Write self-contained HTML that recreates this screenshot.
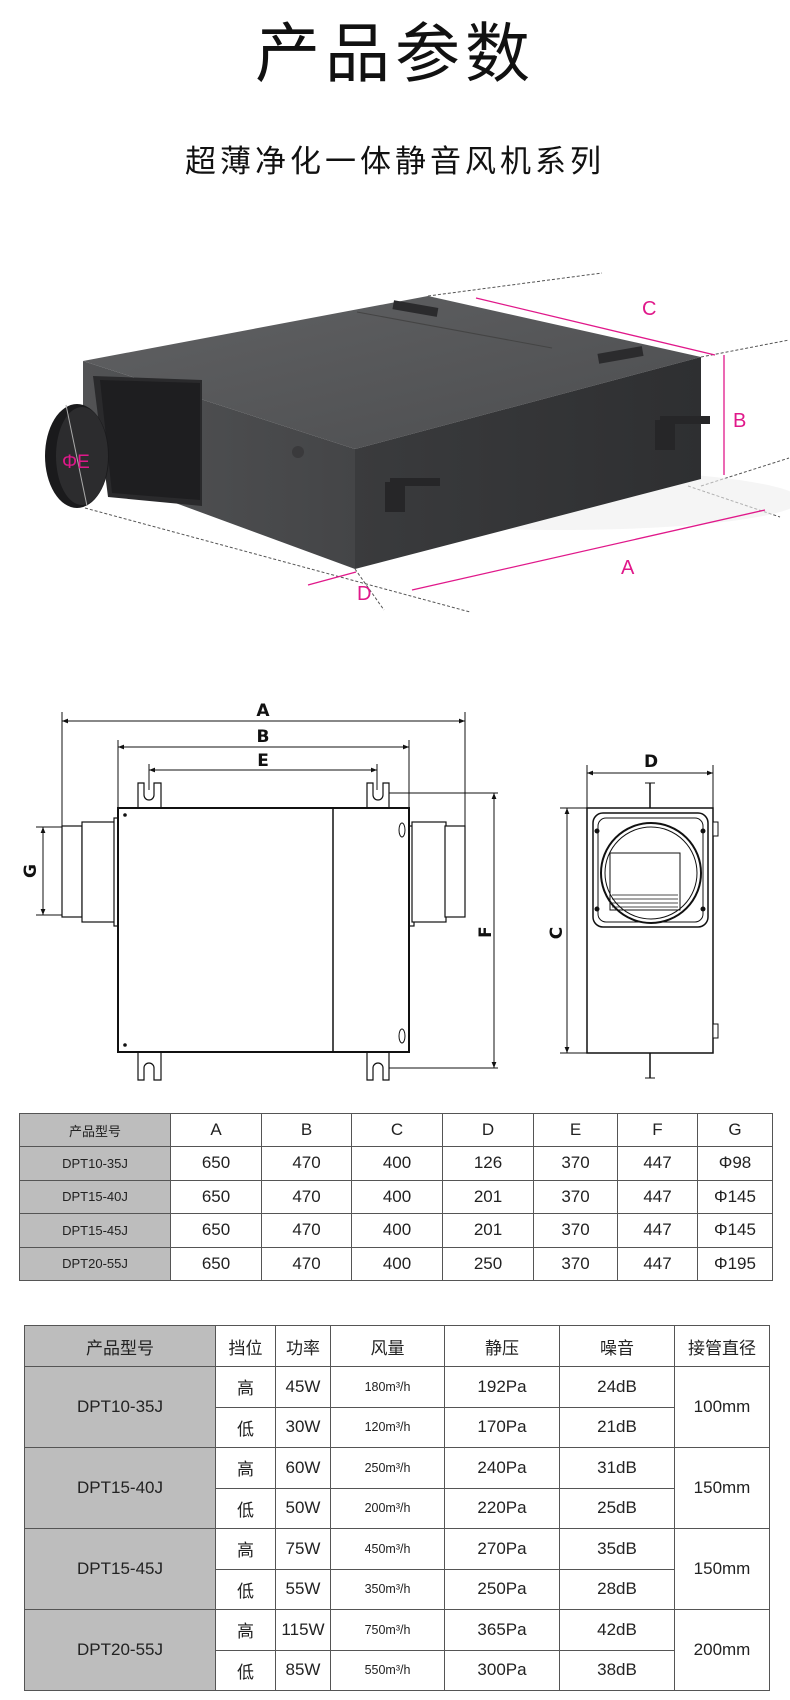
<!DOCTYPE html>
<html><head><meta charset="utf-8">
<style>
html,body{margin:0;padding:0;background:#fff;}
body{width:790px;height:1700px;position:relative;overflow:hidden;font-family:"Liberation Sans","Noto Sans CJK SC",sans-serif;color:#111;}
.t{position:absolute;left:0;width:790px;text-align:center;}
table{position:absolute;border-collapse:collapse;table-layout:fixed;}
td{border:1.5px solid #555;text-align:center;vertical-align:middle;padding:0;font-family:"Liberation Sans Narrow","Liberation Sans","Noto Sans CJK SC",sans-serif;color:#222;}
td.g{background:#bdbdbd;}
#t1 td{font-size:17px;}
#t1 td.g{font-size:13px;}
#t2 td{font-size:17px;}
#t2 td.s{font-size:12.5px;}
</style></head><body>
<div class="t" style="top:14px;font-size:65px;letter-spacing:5px;line-height:80px;">产品参数</div>
<div class="t" style="top:142px;font-size:31px;letter-spacing:4px;line-height:40px;">超薄净化一体静音风机系列</div>

<svg width="790" height="1700" style="position:absolute;left:0;top:0" xmlns="http://www.w3.org/2000/svg">
<defs>
<linearGradient id="gt" x1="0" y1="0" x2="1" y2="1"><stop offset="0" stop-color="#606163"/><stop offset="1" stop-color="#4c4d4f"/></linearGradient>
<linearGradient id="gf" x1="0" y1="0" x2="1" y2="0"><stop offset="0" stop-color="#3a3b3d"/><stop offset="1" stop-color="#2e2f31"/></linearGradient>
<linearGradient id="gl" x1="0" y1="0" x2="1" y2="0"><stop offset="0" stop-color="#525355"/><stop offset="1" stop-color="#444547"/></linearGradient>
<marker id="ar" viewBox="0 0 10 10" refX="10" refY="5" markerWidth="8" markerHeight="6" orient="auto-start-reverse"><path d="M0,1 L10,5 L0,9 z" fill="#111"/></marker>
</defs>
<!-- photo -->
<g stroke="#555" stroke-width="1" stroke-dasharray="3,2" fill="none">
<line x1="428" y1="296" x2="602" y2="273"/>
<line x1="701" y1="357" x2="789" y2="340"/>
<line x1="701" y1="486" x2="789" y2="458"/>
<line x1="688" y1="486" x2="780" y2="517"/>
<line x1="85" y1="508" x2="470" y2="612"/>
<line x1="355" y1="569" x2="384" y2="610"/>
</g>
<ellipse cx="560" cy="500" rx="240" ry="30" fill="#eee" opacity="0.6"/>
<polygon points="83,361 428,296 701,357 355,449" fill="url(#gt)"/>
<line x1="357" y1="312" x2="552" y2="348" stroke="#444" stroke-width="1"/>
<polygon points="355,449 701,357 701,479 355,569" fill="url(#gf)"/>
<polygon points="83,361 355,449 355,569 83,469" fill="url(#gl)"/>
<rect x="393" y="304" width="45" height="9" fill="#2b2b2d" transform="rotate(10 415 308)"/>
<rect x="598" y="350" width="45" height="10" fill="#2b2b2d" transform="rotate(-10 620 355)"/>
<polygon points="93,376 202,380 202,506 108,497" fill="#2a2a2c"/>
<polygon points="100,380 200,383 200,500 112,493" fill="#1e1e20"/>
<ellipse cx="77" cy="456" rx="32" ry="52" fill="#1a1a1c"/>
<ellipse cx="82" cy="456" rx="26" ry="49" fill="#2c2c2e"/>
<line x1="66" y1="405" x2="87" y2="506" stroke="#aaa" stroke-width="1"/>
<circle cx="298" cy="452" r="6" fill="#3a3a3c"/>
<g fill="#262628"><rect x="385" y="482" width="20" height="30"/><rect x="390" y="478" width="50" height="8"/><rect x="655" y="420" width="20" height="30"/><rect x="660" y="416" width="50" height="8"/></g>
<g stroke="#e0188a" stroke-width="1.3" fill="none">
<line x1="476" y1="298" x2="715" y2="355"/>
<line x1="724" y1="355" x2="724" y2="475"/>
<line x1="412" y1="590" x2="765" y2="510"/>
<line x1="308" y1="585" x2="356" y2="572"/>
</g>
<g fill="#e0188a" font-size="20" font-family="Liberation Sans,sans-serif">
<text x="642" y="315">C</text><text x="733" y="427">B</text><text x="621" y="574">A</text><text x="357" y="600">D</text><text x="62" y="468" font-size="19">ΦE</text>
</g>

<!-- front drawing -->
<g stroke="#111" stroke-width="1" fill="none">
<line x1="62" y1="721" x2="465" y2="721" marker-start="url(#ar)" marker-end="url(#ar)"/>
<line x1="118" y1="747" x2="409" y2="747" marker-start="url(#ar)" marker-end="url(#ar)"/>
<line x1="149" y1="770" x2="377" y2="770" marker-start="url(#ar)" marker-end="url(#ar)"/>
<line x1="62" y1="712" x2="62" y2="826"/><line x1="465" y1="712" x2="465" y2="826"/>
<line x1="118" y1="740" x2="118" y2="808"/><line x1="409" y1="740" x2="409" y2="808"/>
<line x1="149" y1="764" x2="149" y2="790"/><line x1="377" y1="764" x2="377" y2="790"/>
<line x1="385" y1="793" x2="498" y2="793"/><line x1="385" y1="1068" x2="498" y2="1068"/>
<line x1="494" y1="793" x2="494" y2="1068" marker-start="url(#ar)" marker-end="url(#ar)"/>
<line x1="36" y1="827" x2="62" y2="827"/><line x1="36" y1="915" x2="62" y2="915"/>
<line x1="43" y1="827" x2="43" y2="915" marker-start="url(#ar)" marker-end="url(#ar)"/>
</g>
<g stroke="#111" stroke-width="1.2" fill="#fff">
<rect x="62" y="826" width="20" height="91"/><rect x="82" y="822" width="34" height="100"/><rect x="114" y="818" width="5" height="108"/>
<rect x="409" y="826" width="5" height="100"/><rect x="412" y="822" width="34" height="100"/><rect x="445" y="826" width="20" height="91"/>
<path d="M138,808 V783 H144 V795 a3,3 0 0 0 10,0 V783 H161 V808"/><path d="M367,808 V783 H373 V795 a3,3 0 0 0 10,0 V783 H389 V808"/>
<path d="M138,1052 V1080 H144 V1068 a3,3 0 0 1 10,0 V1080 H161 V1052"/><path d="M367,1052 V1080 H373 V1068 a3,3 0 0 1 10,0 V1080 H389 V1052"/>
</g>
<rect x="118" y="808" width="291" height="244" fill="#fff" stroke="#111" stroke-width="2"/>
<line x1="333" y1="808" x2="333" y2="1052" stroke="#111" stroke-width="1.5"/>
<g fill="none" stroke="#111"><ellipse cx="402" cy="830" rx="3" ry="7"/><ellipse cx="402" cy="1036" rx="3" ry="7"/></g>
<circle cx="125" cy="815" r="1.8" fill="#111"/><circle cx="125" cy="1045" r="1.8" fill="#111"/>
<g font-family="DejaVu Sans,Liberation Sans,sans-serif" font-weight="bold" font-size="17" fill="#111" text-anchor="middle">
<text x="263" y="716">A</text><text x="263" y="742">B</text><text x="263" y="766">E</text>
<text x="651" y="767">D</text>
<text transform="translate(36,871) rotate(-90)" >G</text>
<text transform="translate(491,932) rotate(-90)">F</text>
<text transform="translate(562,933) rotate(-90)">C</text>
</g>
<!-- side view -->
<g stroke="#111" stroke-width="1" fill="none">
<line x1="587" y1="773" x2="713" y2="773" marker-start="url(#ar)" marker-end="url(#ar)"/>
<line x1="587" y1="765" x2="587" y2="808"/><line x1="713" y1="765" x2="713" y2="808"/>
<line x1="560" y1="808" x2="587" y2="808"/><line x1="560" y1="1053" x2="587" y2="1053"/>
<line x1="567" y1="808" x2="567" y2="1053" marker-start="url(#ar)" marker-end="url(#ar)"/>
<line x1="650" y1="783" x2="650" y2="808" stroke-width="1.5"/><line x1="645" y1="783" x2="655" y2="783"/>
<line x1="650" y1="1053" x2="650" y2="1078" stroke-width="1.5"/><line x1="645" y1="1078" x2="655" y2="1078"/>
</g>
<rect x="587" y="808" width="126" height="245" fill="#fff" stroke="#111" stroke-width="1.5"/>
<rect x="593" y="813" width="115" height="114" rx="10" fill="#fff" stroke="#111" stroke-width="1.5"/>
<rect x="598" y="818" width="105" height="104" rx="8" fill="none" stroke="#111" stroke-width="1"/>
<circle cx="651" cy="873" r="50" fill="#fff" stroke="#111" stroke-width="2"/>
<circle cx="651" cy="873" r="46" fill="none" stroke="#111" stroke-width="1"/>
<rect x="610" y="853" width="70" height="57" fill="none" stroke="#111"/>
<g stroke="#111" stroke-width="0.8"><line x1="612" y1="895" x2="678" y2="895"/><line x1="612" y1="899" x2="678" y2="899"/><line x1="612" y1="903" x2="678" y2="903"/><line x1="612" y1="907" x2="678" y2="907"/></g>
<g fill="#111"><circle cx="597" cy="831" r="2.5"/><circle cx="703" cy="831" r="2.5"/><circle cx="597" cy="909" r="2.5"/><circle cx="703" cy="909" r="2.5"/></g>
<rect x="713" y="822" width="5" height="14" fill="#fff" stroke="#111"/><rect x="713" y="1024" width="5" height="14" fill="#fff" stroke="#111"/>
</svg>

<table id="t1" style="left:19px;top:1113px;width:753px;">
<colgroup><col style="width:151px"><col style="width:91px"><col style="width:90px"><col style="width:91px"><col style="width:91px"><col style="width:84px"><col style="width:80px"><col style="width:75px"></colgroup>
<tr style="height:33px"><td class="g">产品型号</td><td>A</td><td>B</td><td>C</td><td>D</td><td>E</td><td>F</td><td>G</td></tr>
<tr style="height:33.5px"><td class="g">DPT10-35J</td><td>650</td><td>470</td><td>400</td><td>126</td><td>370</td><td>447</td><td>Φ98</td></tr>
<tr style="height:33.5px"><td class="g">DPT15-40J</td><td>650</td><td>470</td><td>400</td><td>201</td><td>370</td><td>447</td><td>Φ145</td></tr>
<tr style="height:33.5px"><td class="g">DPT15-45J</td><td>650</td><td>470</td><td>400</td><td>201</td><td>370</td><td>447</td><td>Φ145</td></tr>
<tr style="height:33.5px"><td class="g">DPT20-55J</td><td>650</td><td>470</td><td>400</td><td>250</td><td>370</td><td>447</td><td>Φ195</td></tr>
</table>

<table id="t2" style="left:24px;top:1325px;width:745px;">
<colgroup><col style="width:191px"><col style="width:60px"><col style="width:55px"><col style="width:114px"><col style="width:115px"><col style="width:115px"><col style="width:95px"></colgroup>
<tr style="height:41px"><td class="g">产品型号</td><td>挡位</td><td>功率</td><td>风量</td><td>静压</td><td>噪音</td><td>接管直径</td></tr>
<tr style="height:40.5px"><td class="g" rowspan="2">DPT10-35J</td><td>高</td><td>45W</td><td class="s">180m³/h</td><td>192Pa</td><td>24dB</td><td rowspan="2">100mm</td></tr>
<tr style="height:40.5px"><td>低</td><td>30W</td><td class="s">120m³/h</td><td>170Pa</td><td>21dB</td></tr>
<tr style="height:40.5px"><td class="g" rowspan="2">DPT15-40J</td><td>高</td><td>60W</td><td class="s">250m³/h</td><td>240Pa</td><td>31dB</td><td rowspan="2">150mm</td></tr>
<tr style="height:40.5px"><td>低</td><td>50W</td><td class="s">200m³/h</td><td>220Pa</td><td>25dB</td></tr>
<tr style="height:40.5px"><td class="g" rowspan="2">DPT15-45J</td><td>高</td><td>75W</td><td class="s">450m³/h</td><td>270Pa</td><td>35dB</td><td rowspan="2">150mm</td></tr>
<tr style="height:40.5px"><td>低</td><td>55W</td><td class="s">350m³/h</td><td>250Pa</td><td>28dB</td></tr>
<tr style="height:40.5px"><td class="g" rowspan="2">DPT20-55J</td><td>高</td><td>115W</td><td class="s">750m³/h</td><td>365Pa</td><td>42dB</td><td rowspan="2">200mm</td></tr>
<tr style="height:40.5px"><td>低</td><td>85W</td><td class="s">550m³/h</td><td>300Pa</td><td>38dB</td></tr>
</table>
</body></html>
